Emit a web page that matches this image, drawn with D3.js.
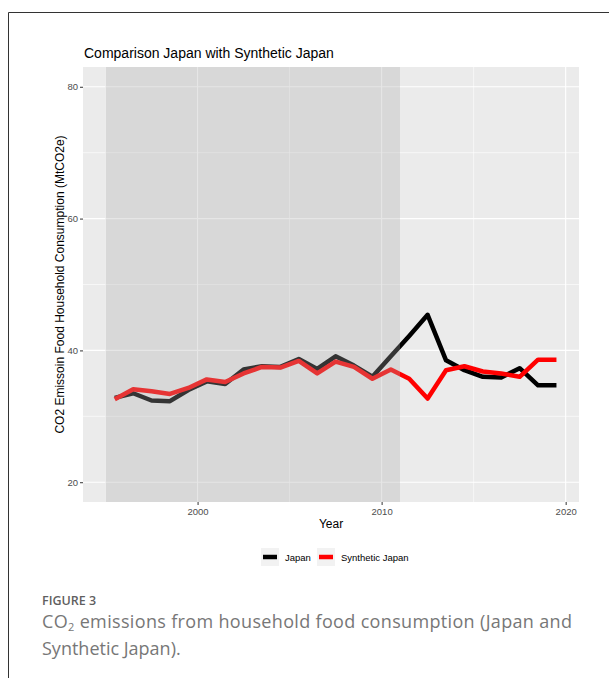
<!DOCTYPE html>
<html lang="en">
<head>
    <meta charset="UTF-8">
    <title>Comparison Japan with Synthetic Japan</title>
    <script src="https://d3js.org/d3.v7.min.js"></script>
    <style>
        body { margin: 0; background: white; }
        svg { display: block; }
    </style>
</head>
<body>
    <div id="chart"></div>
    <script>
        // Data (mid-year points)
        var years = [1995, 1996, 1997, 1998, 1999, 2000, 2001, 2002, 2003, 2004, 2005, 2006, 2007,
            2008, 2009, 2010, 2011, 2012, 2013, 2014, 2015, 2016, 2017, 2018, 2019];
        var japan = [32.8, 33.5, 32.4, 32.3, 34.0, 35.3, 34.9, 37.1, 37.6, 37.5, 38.7, 37.2, 39.1,
            37.7, 36.0, 39.1, 42.2, 45.4, 38.5, 37.0, 36.0, 35.9, 37.3, 34.7, 34.7];
        var synthetic = [32.6, 34.1, 33.8, 33.4, 34.3, 35.6, 35.2, 36.5, 37.5, 37.4, 38.4, 36.5, 38.3,
            37.5, 35.7, 37.1, 35.7, 32.7, 37.0, 37.6, 36.8, 36.5, 36.0, 38.6, 38.6];
        var seriesNames = ["Japan", "Synthetic Japan"];
        var seriesColors = ["#000000", "#ff0000"];
        var preTreatment = [1995, 2011];   // shaded period
        var yTicks = [20, 40, 60, 80];
        var yMinor = [30, 50, 70];
        var xTicks = [2000, 2010, 2020];
        var xMinor = [1995, 2005, 2015];

        var width = 609, height = 678;
        var panel = { left: 83, right: 579, top: 67, bottom: 502 };

        var svg = d3.select("#chart").append("svg")
            .attr("width", width)
            .attr("height", height);

        // figure frame
        svg.append("path")
            .attr("d", "M8.5,678 L8.5,12.5 L609,12.5")
            .attr("fill", "none")
            .attr("stroke", "#333")
            .attr("stroke-width", 1);

        // ggplot-style expanded domains (5% each side)
        var xLo = preTreatment[0], xHi = d3.max(years) + 0.5;
        var xPad = (xHi - xLo) * 0.05;
        var x = d3.scaleLinear().domain([xLo - xPad, xHi + xPad]).range([panel.left, panel.right]);
        var y = d3.scaleLinear().domain([17, 83]).range([panel.bottom, panel.top]);

        // panel background
        svg.append("rect")
            .attr("x", panel.left).attr("y", panel.top)
            .attr("width", panel.right - panel.left)
            .attr("height", panel.bottom - panel.top)
            .attr("fill", "#ebebeb");

        // grid lines
        var grid = svg.append("g");
        grid.selectAll(".ymin").data(yMinor).enter().append("line")
            .attr("x1", panel.left).attr("x2", panel.right)
            .attr("y1", d => y(d)).attr("y2", d => y(d))
            .attr("stroke", "white").attr("stroke-width", 0.6);
        grid.selectAll(".xmin").data(xMinor).enter().append("line")
            .attr("y1", panel.top).attr("y2", panel.bottom)
            .attr("x1", d => x(d)).attr("x2", d => x(d))
            .attr("stroke", "white").attr("stroke-width", 0.6);
        grid.selectAll(".ymaj").data(yTicks).enter().append("line")
            .attr("x1", panel.left).attr("x2", panel.right)
            .attr("y1", d => y(d)).attr("y2", d => y(d))
            .attr("stroke", "white").attr("stroke-width", 1.1);
        grid.selectAll(".xmaj").data(xTicks).enter().append("line")
            .attr("y1", panel.top).attr("y2", panel.bottom)
            .attr("x1", d => x(d)).attr("x2", d => x(d))
            .attr("stroke", "white").attr("stroke-width", 1.1);

        // lines
        var line = d3.line()
            .x(d => x(d.year + 0.5))
            .y(d => y(d.value));

        [japan, synthetic].forEach((vals, i) => {
            var pts = years.map((yr, j) => ({ year: yr, value: vals[j] }));
            svg.append("path")
                .datum(pts)
                .attr("d", line)
                .attr("fill", "none")
                .attr("stroke", seriesColors[i])
                .attr("stroke-width", 4.5)
                .attr("stroke-linejoin", "round");
        });

        // shaded pre-treatment period drawn over the lines (semi transparent)
        svg.append("rect")
            .attr("x", x(preTreatment[0]))
            .attr("y", panel.top)
            .attr("width", x(preTreatment[1]) - x(preTreatment[0]))
            .attr("height", panel.bottom - panel.top)
            .attr("fill", "#adadad")
            .attr("fill-opacity", 0.3);

        // axes
        var yAxis = svg.append("g")
            .attr("transform", `translate(${panel.left},0)`)
            .call(d3.axisLeft(y).tickValues(yTicks).tickSize(3).tickPadding(2));
        var xAxis = svg.append("g")
            .attr("transform", `translate(0,${panel.bottom})`)
            .call(d3.axisBottom(x).tickValues(xTicks).tickFormat(d3.format("d")).tickSize(3).tickPadding(3));
        [yAxis, xAxis].forEach(a => {
            a.select(".domain").remove();
            a.selectAll(".tick line").attr("stroke", "#333");
            a.selectAll(".tick text")
                .attr("fill", "#4d4d4d")
                .style("font-family", "Liberation Sans, Arial, sans-serif")
                .style("font-size", "9.5px");
        });

        // titles
        svg.append("text")
            .attr("x", panel.left + 1).attr("y", 58)
            .style("font-family", "Liberation Sans, Arial, sans-serif")
            .style("font-size", "14px")
            .attr("fill", "black")
            .text("Comparison Japan with Synthetic Japan");

        svg.append("text")
            .attr("x", (panel.left + panel.right) / 2).attr("y", 528)
            .attr("text-anchor", "middle")
            .style("font-family", "Liberation Sans, Arial, sans-serif")
            .style("font-size", "12px")
            .text("Year");

        svg.append("text")
            .attr("transform", `translate(64,${(panel.top + panel.bottom) / 2}) rotate(-90)`)
            .attr("text-anchor", "middle")
            .style("font-family", "Liberation Sans, Arial, sans-serif")
            .style("font-size", "12px")
            .text("CO2 Emissoin Food Household Consumption (MtCO2e)");

        // legend
        var legendX = [261, 317];
        var legend = svg.append("g");
        seriesNames.forEach((name, i) => {
            var g = legend.append("g").attr("transform", `translate(${legendX[i]},548)`);
            g.append("rect").attr("width", 18).attr("height", 18).attr("fill", "#f2f2f2");
            g.append("line").attr("x1", 2).attr("x2", 16).attr("y1", 9).attr("y2", 9)
                .attr("stroke", seriesColors[i]).attr("stroke-width", 4.5);
            g.append("text").attr("x", 24).attr("y", 12.5)
                .style("font-family", "Liberation Sans, Arial, sans-serif")
                .style("font-size", "9.5px")
                .text(name);
        });

        // caption
        svg.append("text")
            .attr("x", 42).attr("y", 605)
            .style("font-family", "Open Sans, sans-serif")
            .style("font-size", "12.5px")
            .style("font-weight", "600")
            .attr("fill", "#5f5f5f")
            .text("FIGURE 3");
        var cap1 = svg.append("text")
            .attr("x", 42).attr("y", 628)
            .attr("textLength", 530)
            .style("font-family", "Open Sans, sans-serif")
            .style("font-size", "18px")
            .attr("fill", "#777");
        cap1.append("tspan").text("CO");
        cap1.append("tspan").attr("dy", 3).style("font-size", "11px").text("2");
        cap1.append("tspan").attr("dy", -3).text(" emissions from household food consumption (Japan and");
        svg.append("text")
            .attr("x", 42).attr("y", 655)
            .style("font-family", "Open Sans, sans-serif")
            .style("font-size", "18px")
            .attr("fill", "#777")
            .text("Synthetic Japan).");
    </script>
</body>
</html>
